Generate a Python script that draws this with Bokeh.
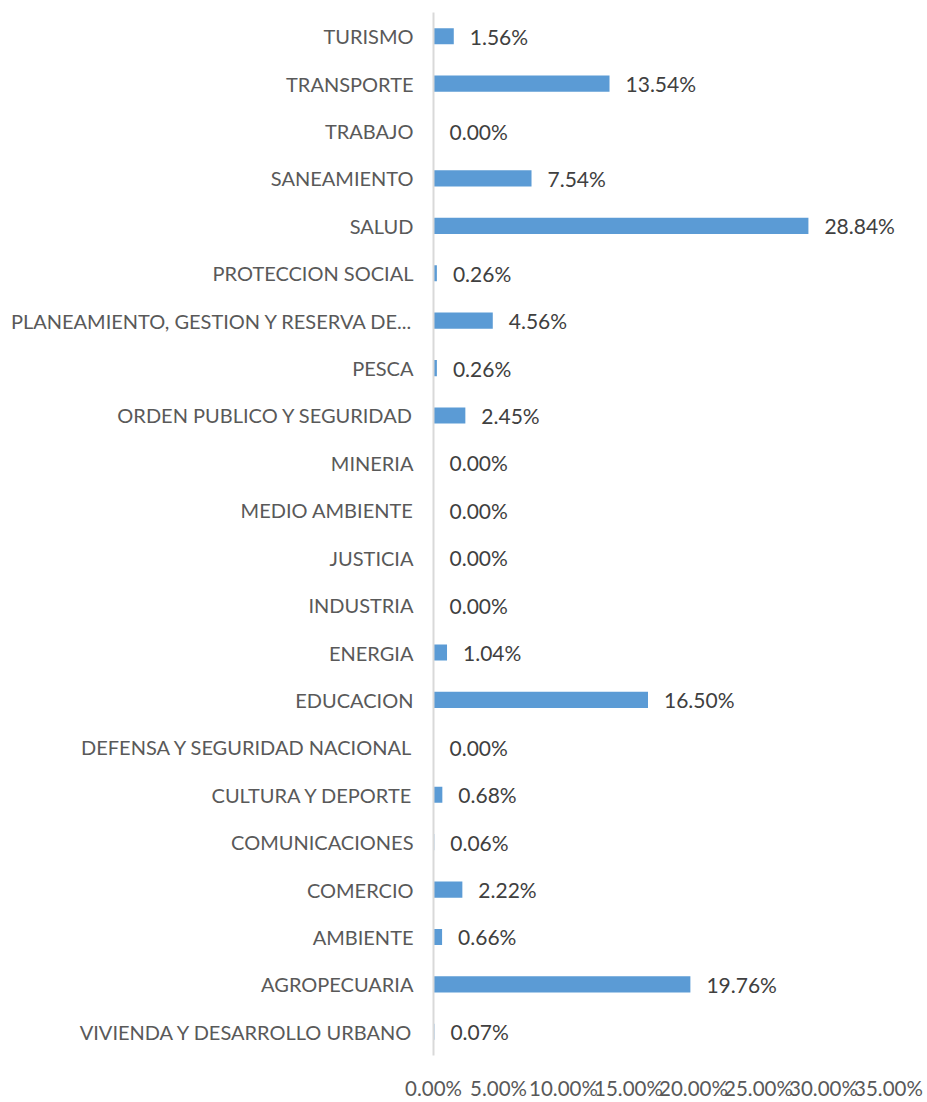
from bokeh.plotting import figure
from bokeh.models import ColumnDataSource, FactorRange, Range1d, FixedTicker, NumeralTickFormatter
from bokeh.core.properties import value
from bokeh.embed import file_html
from bokeh.resources import INLINE

categories = [
    "TURISMO", "TRANSPORTE", "TRABAJO", "SANEAMIENTO", "SALUD",
    "PROTECCION SOCIAL", "PLANEAMIENTO, GESTION Y RESERVA DE...", "PESCA",
    "ORDEN PUBLICO Y SEGURIDAD", "MINERIA", "MEDIO AMBIENTE", "JUSTICIA",
    "INDUSTRIA", "ENERGIA", "EDUCACION", "DEFENSA Y SEGURIDAD NACIONAL",
    "CULTURA Y DEPORTE", "COMUNICACIONES", "COMERCIO", "AMBIENTE",
    "AGROPECUARIA", "VIVIENDA Y DESARROLLO URBANO",
]
percent_values = [
    1.56, 13.54, 0.00, 7.54, 28.84,
    0.26, 4.56, 0.26,
    2.45, 0.00, 0.00, 0.00,
    0.00, 1.04, 16.50, 0.00,
    0.68, 0.06, 2.22, 0.66,
    19.76, 0.07,
]
tick_values = [0.00, 0.05, 0.10, 0.15, 0.20, 0.25, 0.30, 0.35]

fractions = [v / 100.0 for v in percent_values]
labels = [f"{v:.2f}%" for v in percent_values]

source = ColumnDataSource(data=dict(cat=categories, val=fractions, lab=labels))

FONT = "Lato"

p = figure(
    width=927, height=1102,
    y_range=FactorRange(factors=list(reversed(categories)), range_padding=0),
    x_range=Range1d(0, 0.37),
    output_backend="svg", toolbar_location=None,
    min_border_left=433, min_border_right=13, min_border_top=12, min_border_bottom=42,
)
p.y_range.factor_padding = 0

p.hbar(y="cat", right="val", left=0, height=0.34, source=source,
       fill_color="#5B9BD5", line_color=None)

p.text(x="val", y="cat", text="lab", source=source,
       x_offset=16, y_offset=0,
       text_font=value(FONT), text_font_size="21px", text_color="#404040",
       text_baseline="middle", text_align="left")

p.xgrid.visible = False
p.ygrid.visible = False
p.outline_line_color = None
p.background_fill_color = "white"
p.border_fill_color = "white"

xa = p.xaxis[0]
xa.ticker = FixedTicker(ticks=tick_values)
xa.formatter = NumeralTickFormatter(format="0.00%")
xa.axis_line_color = None
xa.major_tick_line_color = None
xa.minor_tick_line_color = None
xa.major_tick_out = 0
xa.major_label_standoff = 20
xa.major_label_text_font = FONT
xa.major_label_text_font_size = "20.5px"
xa.major_label_text_color = "#595959"

ya = p.yaxis[0]
ya.axis_line_color = "#D9D9D9"
ya.axis_line_width = 2
ya.major_tick_line_color = None
ya.minor_tick_line_color = None
ya.major_tick_out = 0
ya.major_label_standoff = 20
ya.major_label_text_font = FONT
ya.major_label_text_font_size = "20px"
ya.major_label_text_color = "#595959"

open("out.html", "w").write(file_html(p, INLINE))
